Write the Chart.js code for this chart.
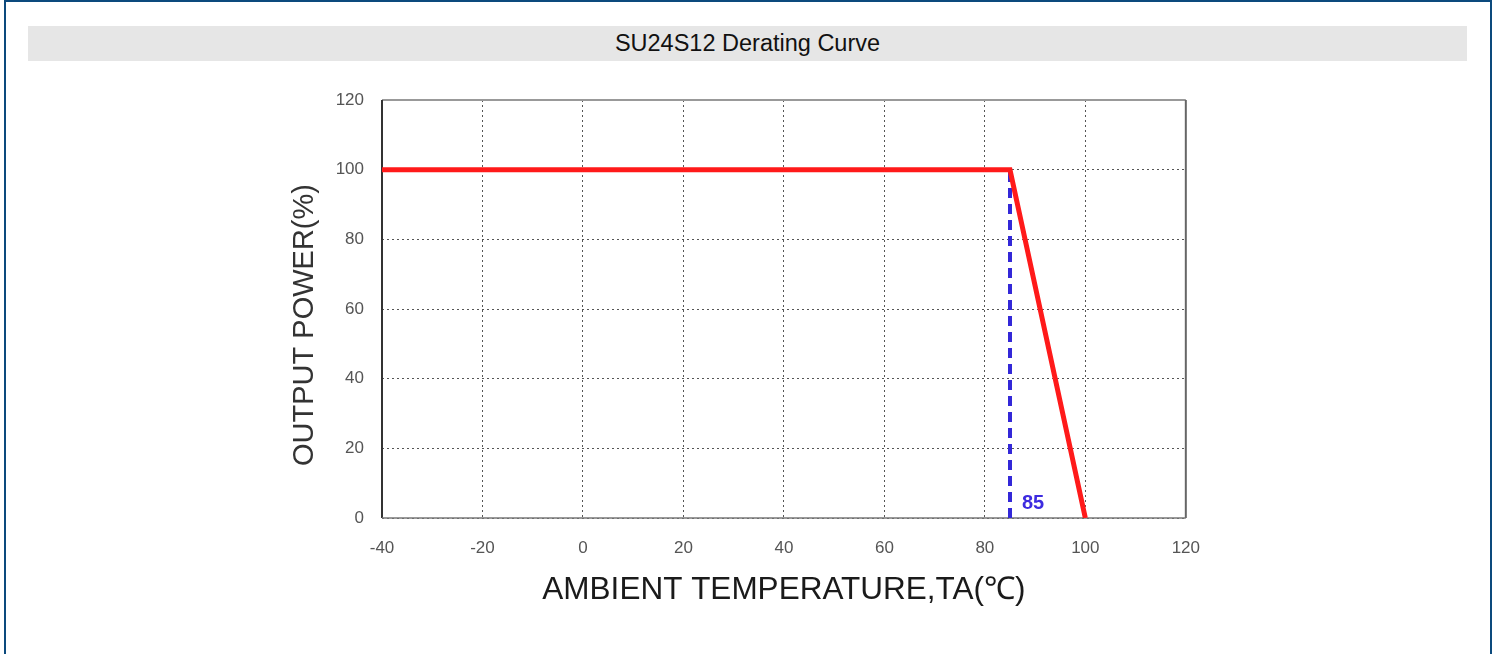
<!DOCTYPE html>
<html>
<head>
<meta charset="utf-8">
<script src="https://cdn.jsdelivr.net/npm/chart.js@4"></script>
<style>
  body { margin: 0; background: #fff; font-family: Arial, "Liberation Sans", sans-serif; }
  .frame { position: absolute; left: 4px; top: 0; width: 1488px; height: 700px; box-sizing: border-box; border: 2px solid #0c4a7d; }
  .bar { position: absolute; left: 28px; top: 26px; width: 1439px; height: 35px; background: #e6e6e6;
         font-size: 23.5px; line-height: 35px; text-align: center; color: #111; }
  .plot { position: absolute; left: 270px; top: 80px; width: 950px; height: 560px; }
</style>
</head>
<body>
<div class="frame"></div>
<div class="bar">SU24S12 Derating Curve</div>
<div class="plot"><canvas id="derating"></canvas></div>
<script>
// derating curve
const tempC = [-40, 85, 100];
const powerPct = [100, 100, 0];
// knee marker (blue dashed)
const kneeTemp = [85, 85];
const kneePower = [0, 100];

const xMin = -40, xMax = 120, xStep = 20;
const yMin = 0, yMax = 120, yStep = 20;

const yTitle = 'OUTPUT POWER(%)';
const xTitle = 'AMBIENT TEMPERATURE,TA(\u2103)';

const FONT = 'Arial, "Liberation Sans", sans-serif';

function pairs(xs, ys) {
    return xs.map((x, i) => ({ x: x, y: ys[i] }));
}

// box round the plot area, the y title (sits a bit low in the original) and the "85" text
const framePlugin = {
    id: 'frame',
    beforeDatasetsDraw(chart) {
        const a = chart.chartArea, ctx = chart.ctx;
        ctx.save();
        ctx.lineWidth = 2;
        ctx.strokeStyle = '#999';
        ctx.beginPath(); ctx.moveTo(a.left, a.top); ctx.lineTo(a.right, a.top); ctx.stroke();
        ctx.strokeStyle = '#666';
        ctx.beginPath(); ctx.moveTo(a.right, a.top); ctx.lineTo(a.right, a.bottom); ctx.stroke();
        ctx.strokeStyle = '#333';
        ctx.beginPath(); ctx.moveTo(a.left, a.top); ctx.lineTo(a.left, a.bottom); ctx.stroke();
        ctx.lineWidth = 1.5;
        ctx.strokeStyle = '#777';
        ctx.beginPath(); ctx.moveTo(a.left, a.bottom); ctx.lineTo(a.right, a.bottom); ctx.stroke();

        // y axis title
        const ys = chart.scales.y;
        ctx.translate(ys.left + 35, (a.top + a.bottom) / 2 + 16);
        ctx.rotate(-Math.PI / 2);
        ctx.font = '29px ' + FONT;
        ctx.fillStyle = '#333';
        ctx.textAlign = 'center';
        ctx.textBaseline = 'middle';
        ctx.fillText(yTitle, 0, 0);
        ctx.restore();
    },
    afterDatasetsDraw(chart) {
        const ctx = chart.ctx;
        const x = chart.scales.x.getPixelForValue(kneeTemp[0]);
        const y = chart.scales.y.getPixelForValue(kneePower[0]);
        ctx.save();
        ctx.font = 'bold 20px ' + FONT;
        ctx.fillStyle = '#3d2be0';
        ctx.textAlign = 'left';
        ctx.textBaseline = 'middle';
        ctx.fillText(String(kneeTemp[0]), x + 12, y - 15);
        ctx.restore();
    }
};

const gridStyle = {
    color: '#555',
    lineWidth: 1,
    drawTicks: false
};

const config = {
    type: 'scatter',
    data: {
        datasets: [{
            label: 'output power',
            data: pairs(tempC, powerPct),
            showLine: true,
            borderColor: '#ff1a1a',
            borderWidth: 5,
            pointRadius: 0,
            tension: 0
        },
        {
            label: 'knee',
            data: pairs(kneeTemp, kneePower),
            showLine: true,
            borderColor: '#3328d8',
            borderWidth: 4,
            borderDash: [10, 6],
            pointRadius: 0
        }]
    },
    options: {
        responsive: true,
        maintainAspectRatio: false,
        animation: false,
        layout: { padding: { top: 20, right: 33, left: 0, bottom: 0 } },
        plugins: {
            legend: { display: false },
            tooltip: { enabled: false }
        },
        scales: {
            x: {
                type: 'linear',
                min: xMin, max: xMax,
                grid: gridStyle,
                border: { display: false, dash: [2, 3] },
                ticks: {
                    stepSize: xStep,
                    padding: 20,
                    color: '#555',
                    font: { family: FONT, size: 17 }
                },
                title: {
                    display: true,
                    text: xTitle,
                    color: '#1a1a1a',
                    font: { family: FONT, size: 31.5 },
                    padding: { top: 0, bottom: 31 }
                },
                afterFit: function(scale) { scale.height = 122; }
            },
            y: {
                min: yMin, max: yMax,
                grid: gridStyle,
                border: { display: false, dash: [2, 3] },
                ticks: {
                    stepSize: yStep,
                    padding: 18,
                    color: '#555',
                    font: { family: FONT, size: 17 }
                },
                afterFit: function(scale) {
                    scale.width = 112;
                    scale.paddingTop = 0;
                    scale.paddingBottom = 0;
                }
            }
        }
    },
    plugins: [framePlugin]
};

window.onload = function() {
    var ctx = document.getElementById('derating').getContext('2d');
    window.derating = new Chart(ctx, config);
};
</script>
</body>
</html>
